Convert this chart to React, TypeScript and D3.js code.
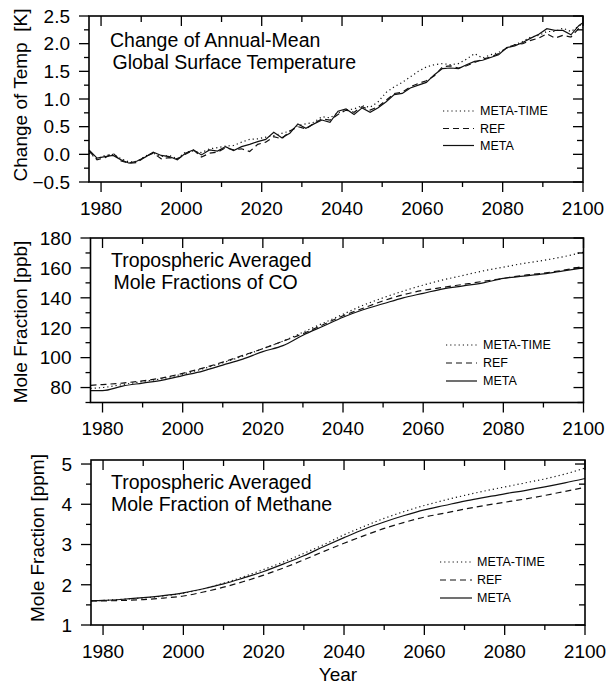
import { useRef, useEffect } from "react";
import * as d3 from "d3";

// ---- data ----
const seriesNames = ["META-TIME", "REF", "META"];

// annual-mean surface temperature change [K], every second year
const tempYears = [...d3.range(1977, 2100, 2), 2100];
const tempMetaTime = [
  0.02, -0.08, -0.02, 0.0, -0.08, -0.14, -0.13, -0.03, 0.02, -0.04,
  -0.02, -0.08, 0.04, 0.06, 0.03, 0.1, 0.12, 0.15, 0.16, 0.22,
  0.27, 0.28, 0.31, 0.34, 0.38, 0.42, 0.52, 0.55, 0.58, 0.68,
  0.66, 0.75, 0.8, 0.82, 0.88, 0.85, 0.95, 1.12, 1.22, 1.3,
  1.4, 1.5, 1.58, 1.62, 1.64, 1.62, 1.64, 1.72, 1.82, 1.74,
  1.8, 1.84, 1.92, 1.98, 2.04, 2.12, 2.15, 2.22, 2.22, 2.28,
  2.22, 2.32, 2.36,
];
const tempRef = [
  0.06, -0.1, -0.06, 0.02, -0.12, -0.16, -0.15, -0.04, 0.02, -0.08,
  -0.06, -0.08, 0.0, 0.08, -0.05, 0.02, 0.04, 0.12, 0.08, 0.1,
  0.05, 0.18, 0.22, 0.32, 0.28, 0.42, 0.5, 0.46, 0.56, 0.64,
  0.62, 0.72, 0.8, 0.76, 0.86, 0.8, 0.86, 0.98, 1.1, 1.12,
  1.22, 1.28, 1.33, 1.42, 1.58, 1.6, 1.56, 1.6, 1.66, 1.72,
  1.76, 1.82, 1.92, 1.98, 2.0, 2.06, 2.1, 2.18, 2.1, 2.15,
  2.12, 2.28, 2.3,
];
const tempMeta = [
  0.08, -0.07, -0.04, -0.02, -0.1, -0.16, -0.12, -0.05, 0.04, -0.02,
  -0.04, -0.1, 0.02, 0.08, -0.01, 0.08, 0.06, 0.14, 0.07, 0.14,
  0.18, 0.23, 0.27, 0.4, 0.3, 0.38, 0.55, 0.47, 0.55, 0.62,
  0.58, 0.78, 0.82, 0.72, 0.84, 0.76, 0.84, 0.95, 1.08, 1.1,
  1.2, 1.25, 1.3, 1.44, 1.55, 1.56, 1.55, 1.62, 1.68, 1.7,
  1.75, 1.8, 1.93, 1.96, 2.02, 2.1, 2.17, 2.27, 2.24, 2.24,
  2.16, 2.33, 2.38,
];

// tropospheric mole fractions, five-year steps
const gasYears = [
  1977, 1980, 1985, 1990, 1995, 2000, 2005, 2010, 2015, 2020, 2025, 2030, 2035,
  2040, 2045, 2050, 2055, 2060, 2065, 2070, 2075, 2080, 2085, 2090, 2095, 2100,
];
const coMetaTime = [
  79.5, 80, 82, 84, 86, 89, 92.5, 96.5, 101, 106, 111, 117, 123,
  129, 135, 140, 144.5, 148.5, 152, 155, 158, 160.5, 163, 165, 167.5, 170.5,
];
const coRef = [
  81.5, 82, 83, 84.5, 86.5, 89.5, 93, 97, 101.5, 106, 111, 116, 122,
  128, 133, 138, 142, 145, 147, 149, 151, 153, 155, 156.5, 158.5, 161,
];
const coMeta = [
  78, 78, 81, 83, 85, 88, 91, 95, 99, 104, 108, 115, 121,
  127, 132, 136, 140, 143, 146, 148, 150, 153, 154.5, 156, 158, 160,
];
const ch4MetaTime = [
  1.6, 1.61, 1.64, 1.67, 1.72, 1.79, 1.9, 2.04, 2.2, 2.38, 2.57, 2.78, 3.0,
  3.24, 3.45, 3.65, 3.82, 3.97, 4.1, 4.22, 4.33, 4.43, 4.53, 4.63, 4.75, 4.9,
];
const ch4Ref = [
  1.6, 1.6, 1.61, 1.63, 1.67, 1.72, 1.82, 1.94, 2.08, 2.24, 2.42, 2.62, 2.83,
  3.03, 3.22, 3.4, 3.55, 3.68, 3.78, 3.88, 3.97, 4.05, 4.13, 4.22, 4.32, 4.42,
];
const ch4Meta = [
  1.6, 1.61, 1.64, 1.68, 1.73, 1.8, 1.9, 2.02, 2.17, 2.33, 2.52, 2.72, 2.95,
  3.17, 3.38, 3.56, 3.72, 3.86, 3.97, 4.08, 4.17, 4.26, 4.34, 4.43, 4.53, 4.64,
];

const xTicks = [1980, 2000, 2020, 2040, 2060, 2080, 2100];
const xMinorTicks = [1990, 2010, 2030, 2050, 2070, 2090];

const FONT = "'Liberation Sans', Arial, Helvetica, sans-serif";
const dashFor: Record<string, string | null> = {
  "META-TIME": "1.2 3",
  REF: "6 4",
  META: null,
};

const panels = [
  {
    years: tempYears,
    series: [tempMetaTime, tempRef, tempMeta],
    yDomain: [-0.5, 2.5],
    yTicks: [-0.5, 0, 0.5, 1, 1.5, 2, 2.5],
    yMinor: [-0.25, 0.25, 0.75, 1.25, 1.75, 2.25],
    fmt: d3.format(".1f"),
    box: { left: 89, right: 583, top: 16, bottom: 182 },
    ylabel: "Change of Temp  [K]",
    ylabelPos: [27, 95],
    title: [
      { text: "Change of Annual-Mean", x: 110, y: 46.5 },
      { text: "Global Surface Temperature", x: 112.5, y: 68.5 },
    ],
    legend: { x1: 443, x2: 474, tx: 480, ys: [115, 132.5, 149.5] },
    curve: d3.curveLinear,
  },
  {
    years: gasYears,
    series: [coMetaTime, coRef, coMeta],
    yDomain: [70, 180],
    yTicks: [80, 100, 120, 140, 160, 180],
    yMinor: [70, 90, 110, 130, 150, 170],
    fmt: d3.format("d"),
    box: { left: 90.5, right: 583.5, top: 238, bottom: 402.5 },
    ylabel: "Mole Fraction [ppb]",
    ylabelPos: [27, 322],
    title: [
      { text: "Tropospheric Averaged", x: 111, y: 267 },
      { text: "Mole Fractions of CO", x: 113.5, y: 289 },
    ],
    legend: { x1: 446, x2: 477, tx: 483, ys: [349, 367, 385] },
    curve: d3.curveMonotoneX,
  },
  {
    years: gasYears,
    series: [ch4MetaTime, ch4Ref, ch4Meta],
    yDomain: [1, 5.1],
    yTicks: [1, 2, 3, 4, 5],
    yMinor: [1.5, 2.5, 3.5, 4.5],
    fmt: d3.format("d"),
    box: { left: 91, right: 585, top: 460, bottom: 625 },
    ylabel: "Mole Fraction [ppm]",
    ylabelPos: [44, 538],
    title: [
      { text: "Tropospheric Averaged", x: 111, y: 489 },
      { text: "Mole Fraction of Methane", x: 111, y: 511 },
    ],
    legend: { x1: 440, x2: 472, tx: 477, ys: [566, 584, 602] },
    curve: d3.curveMonotoneX,
  },
];

const App = () => {
  const svgRef = useRef<SVGSVGElement>(null);

  useEffect(() => {
    const svg = d3.select(svgRef.current);
    svg.selectAll("*").remove();

    panels.forEach((p) => {
      const { left, right, top, bottom } = p.box;
      const x = d3.scaleLinear().domain([1977, 2100]).range([left, right]);
      const y = d3.scaleLinear().domain(p.yDomain).range([bottom, top]);
      const g = svg.append("g");

      // data lines
      p.series.forEach((vals, i) => {
        const line = d3
          .line<number>()
          .x((_, j) => x(p.years[j]))
          .y((v) => y(v))
          .curve(p.curve);
        const dash = dashFor[seriesNames[i]];
        g.append("path")
          .datum(vals)
          .attr("d", line)
          .attr("fill", "none")
          .attr("stroke", "#111")
          .attr("stroke-width", 1.2)
          .attr("stroke-dasharray", dash);
      });

      // frame
      g.append("rect")
        .attr("x", left)
        .attr("y", top)
        .attr("width", right - left)
        .attr("height", bottom - top)
        .attr("fill", "none")
        .attr("stroke", "#000")
        .attr("stroke-width", 1.6);

      const tick = (x1: number, y1: number, x2: number, y2: number) =>
        g.append("line")
          .attr("x1", x1).attr("y1", y1)
          .attr("x2", x2).attr("y2", y2)
          .attr("stroke", "#000")
          .attr("stroke-width", 1.3);

      // x ticks: outward at bottom, inward at top
      xTicks.forEach((t) => {
        tick(x(t), bottom, x(t), bottom + 10);
        tick(x(t), top, x(t), top + 10);
        g.append("text")
          .attr("x", x(t))
          .attr("y", bottom + 32.5)
          .attr("text-anchor", "middle")
          .attr("font-family", FONT)
          .attr("font-size", 19)
          .text(t);
      });
      xMinorTicks.forEach((t) => {
        tick(x(t), bottom, x(t), bottom + 5);
        tick(x(t), top, x(t), top + 6);
      });

      // y ticks: outward at left, inward at right
      p.yTicks.forEach((t) => {
        tick(left - 10, y(t), left, y(t));
        tick(right - 10, y(t), right, y(t));
        g.append("text")
          .attr("x", left - 19)
          .attr("y", y(t) + 6.8)
          .attr("text-anchor", "end")
          .attr("font-family", FONT)
          .attr("font-size", 19)
          .text(p.fmt(t));
      });
      p.yMinor.forEach((t) => {
        tick(left - 5, y(t), left, y(t));
        tick(right - 6, y(t), right, y(t));
      });

      // y label
      g.append("text")
        .attr("transform", `translate(${p.ylabelPos[0]},${p.ylabelPos[1]}) rotate(-90)`)
        .attr("text-anchor", "middle")
        .attr("font-family", FONT)
        .attr("font-size", 19)
        .attr("xml:space", "preserve")
        .style("white-space", "pre")
        .text(p.ylabel);

      // title
      p.title.forEach((t) => {
        g.append("text")
          .attr("x", t.x)
          .attr("y", t.y)
          .attr("font-family", FONT)
          .attr("font-size", 19.5)
          .text(t.text);
      });

      // legend
      seriesNames.forEach((name, i) => {
        const ly = p.legend.ys[i];
        g.append("line")
          .attr("x1", p.legend.x1)
          .attr("x2", p.legend.x2)
          .attr("y1", ly - 4)
          .attr("y2", ly - 4)
          .attr("stroke", "#111")
          .attr("stroke-width", 1.2)
          .attr("stroke-dasharray", dashFor[name]);
        g.append("text")
          .attr("x", p.legend.tx)
          .attr("y", ly)
          .attr("font-family", FONT)
          .attr("font-size", 12.5)
          .text(name);
      });
    });

    // common x label
    const last = panels[panels.length - 1].box;
    svg.append("text")
      .attr("x", (last.left + last.right) / 2)
      .attr("y", 681)
      .attr("text-anchor", "middle")
      .attr("font-family", FONT)
      .attr("font-size", 19)
      .text("Year");
  }, []);

  return (
    <svg
      ref={svgRef}
      width={613}
      height={686}
      style={{ position: "absolute", left: 0, top: 0, background: "#fff" }}
    ></svg>
  );
};

export default App;
